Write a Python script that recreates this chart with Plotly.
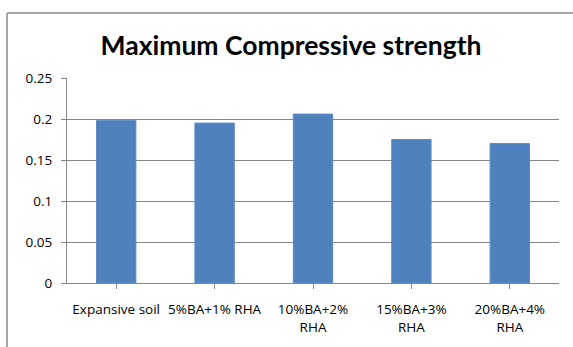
import plotly.graph_objects as go

categories = ["Expansive soil", "5%BA+1% RHA", "10%BA+2%<br>RHA", "15%BA+3%<br>RHA", "20%BA+4%<br>RHA"]
values = [0.198, 0.195, 0.206, 0.175, 0.170]
y_ticks = [0, 0.05, 0.1, 0.15, 0.2, 0.25]
y_ticklabels = ["0", "0.05", "0.1", "0.15", "0.2", "0.25"]
title_text = "Maximum Compressive strength"

W, H = 573, 347
L, R, T, B = 67, 14, 78, 64
pw, ph = W - L - R, H - T - B

fig = go.Figure(go.Bar(
    x=list(range(len(categories))), y=values,
    marker=dict(color="#4F81BD", line=dict(color="#5B8AC4", width=1)),
    width=0.4,
))

tf = dict(size=13.5, family="Open Sans", color="#000000")

fig.update_layout(
    width=W, height=H,
    margin=dict(l=L, r=R, t=T, b=B),
    paper_bgcolor="white", plot_bgcolor="white",
    showlegend=False,
    font=dict(family="Open Sans", size=12, color="#000000"),
    title=dict(text="<b>" + title_text + "</b>", x=(291 - L) / pw, xref="paper", xanchor="center",
               y=1 - 46 / H, yref="container", yanchor="middle",
               font=dict(family="Lato", size=26.5, color="#000000")),
    xaxis=dict(
        tickmode="array", tickvals=list(range(len(categories))), ticktext=categories,
        range=[-0.5, len(categories) - 0.5],
        showgrid=False, showline=True, linecolor="#868686", linewidth=1,
        ticks="outside", ticklen=5, tickcolor="#868686", tickson="boundaries",
        ticklabelstandoff=9, tickfont=tf,
        zeroline=False, fixedrange=True,
    ),
    yaxis=dict(
        tickmode="array", tickvals=y_ticks, ticktext=y_ticklabels,
        range=[0, 0.25],
        showgrid=True, gridcolor="#868686", gridwidth=1,
        showline=True, linecolor="#868686", linewidth=1,
        ticks="outside", ticklen=5, tickcolor="#868686",
        ticklabelstandoff=6, tickfont=tf,
        zeroline=False, fixedrange=True,
    ),
    shapes=[
        dict(type="line", xref="paper", yref="paper",
             x0=(7 - L) / pw, x1=(W + 5 - L) / pw, y0=1 + (T - 13) / ph, y1=1 + (T - 13) / ph,
             line=dict(color="#A6A6A6", width=2)),
        dict(type="line", xref="paper", yref="paper",
             x0=(7 - L) / pw, x1=(7 - L) / pw, y0=1 + (T - 13) / ph, y1=-(B + 5) / ph,
             line=dict(color="#A6A6A6", width=2)),
    ],
)

fig.write_html("out.html")
